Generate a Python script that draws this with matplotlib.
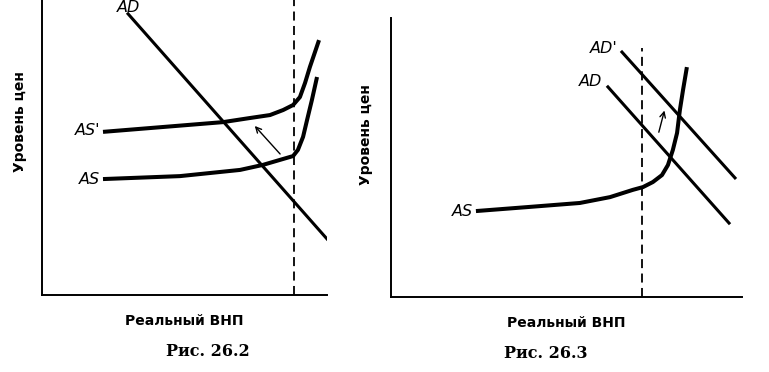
import matplotlib.pyplot as plt

# ---- Рис. 26.2 (units: 0..10 on both axes) ----
ad_x = [3.02, 10.0]
ad_y = [9.53, 1.90]
as1_x = [2.14, 6.35, 7.30, 8.00, 8.46, 8.81, 9.05, 9.23, 9.40, 9.58, 9.72]
as1_y = [5.53, 5.86, 6.00, 6.10, 6.27, 6.44, 6.71, 7.19, 7.73, 8.24, 8.64]
as0_x = [2.14, 4.84, 6.95, 7.75, 8.35, 8.81, 8.98, 9.16, 9.30, 9.47, 9.65]
as0_y = [3.93, 4.03, 4.24, 4.41, 4.58, 4.71, 4.92, 5.36, 5.93, 6.61, 7.39]
lrab_left = 8.84
shift_left = [(8.42, 4.71), (7.40, 5.80)]

# ---- Рис. 26.3 ----
ad2_x = [6.18, 9.63]
ad2_y = [7.53, 2.65]
ad3_x = [6.58, 9.80]
ad3_y = [8.78, 4.27]
as2_x = [2.42, 3.96, 5.38, 6.24, 6.89, 7.18, 7.46, 7.72, 7.89, 8.03, 8.15, 8.23, 8.32, 8.43]
as2_y = [3.08, 3.23, 3.37, 3.58, 3.84, 3.94, 4.12, 4.37, 4.73, 5.27, 5.88, 6.70, 7.42, 8.24]
lrab_right = 7.15
lrab_right_top = 8.92
shift_right = [(7.61, 5.81), (7.81, 6.78)]

W, H = 769, 372
fig = plt.figure(figsize=(7.69, 3.72), dpi=100)


def make_axes(x0, x1, y_top, y_bot):
    ax = fig.add_axes([x0 / W, 1 - y_bot / H, (x1 - x0) / W, (y_bot - y_top) / H])
    ax.set_xlim(0, 10)
    ax.set_ylim(0, 10)
    ax.spines['top'].set_visible(False)
    ax.spines['right'].set_visible(False)
    ax.spines['left'].set_linewidth(1.4)
    ax.spines['bottom'].set_linewidth(1.4)
    ax.set_xticks([])
    ax.set_yticks([])
    ax.patch.set_alpha(0)
    return ax


lab = dict(fontfamily='DejaVu Sans', style='italic', fontsize=11.5, clip_on=False)
axlab = dict(fontfamily='DejaVu Sans', fontweight='bold', fontsize=10)
cap = dict(fontfamily='DejaVu Serif', fontweight='bold', fontsize=11.5)
curve = dict(color='black', lw=2.9, solid_capstyle='butt', solid_joinstyle='round')

ax1 = make_axes(42, 327, 0, 295)
ax1.plot(ad_x, ad_y, color='black', lw=2.2)
ax1.plot(as1_x, as1_y, **curve)
ax1.plot(as0_x, as0_y, **curve)
ax1.axvline(lrab_left, color='black', lw=1.3, ls=(0, (5, 3)))
ax1.annotate('', xy=shift_left[1], xytext=shift_left[0],
             arrowprops=dict(arrowstyle='->', lw=1.0, color='black'))
ax1.text(2.04, 5.59, "AS'", ha='right', va='center', **lab)
ax1.text(2.04, 3.90, 'AS', ha='right', va='center', **lab)
ax1.text(3.02, 9.99, 'AD', ha='center', va='top', **lab)
ax1.set_xlabel('Реальный ВНП', labelpad=14, **axlab)
fig.text(20 / W, 1 - 122 / H, 'Уровень цен', rotation=90, ha='center', va='center', **axlab)
fig.text(208 / W, 1 - 352 / H, 'Рис. 26.2', ha='center', va='center', **cap)

ax2 = make_axes(391, 742, 18, 297)
ax2.plot(ad2_x, ad2_y, color='black', lw=2.2)
ax2.plot(ad3_x, ad3_y, color='black', lw=2.2)
ax2.plot(as2_x, as2_y, **curve)
ax2.plot([lrab_right, lrab_right], [0, lrab_right_top], color='black', lw=1.3, ls=(0, (5, 3)))
ax2.annotate('', xy=shift_right[1], xytext=shift_right[0],
             arrowprops=dict(arrowstyle='->', lw=1.0, color='black'))
ax2.text(6.47, 8.92, "AD'", ha='right', va='center', **lab)
ax2.text(6.01, 7.71, 'AD', ha='right', va='center', **lab)
ax2.text(2.34, 3.08, 'AS', ha='right', va='center', **lab)
ax2.set_xlabel('Реальный ВНП', labelpad=14, **axlab)
fig.text(366 / W, 1 - 135 / H, 'Уровень цен', rotation=90, ha='center', va='center', **axlab)
fig.text(546 / W, 1 - 353 / H, 'Рис. 26.3', ha='center', va='center', **cap)

fig.savefig('out.png', dpi=100)
